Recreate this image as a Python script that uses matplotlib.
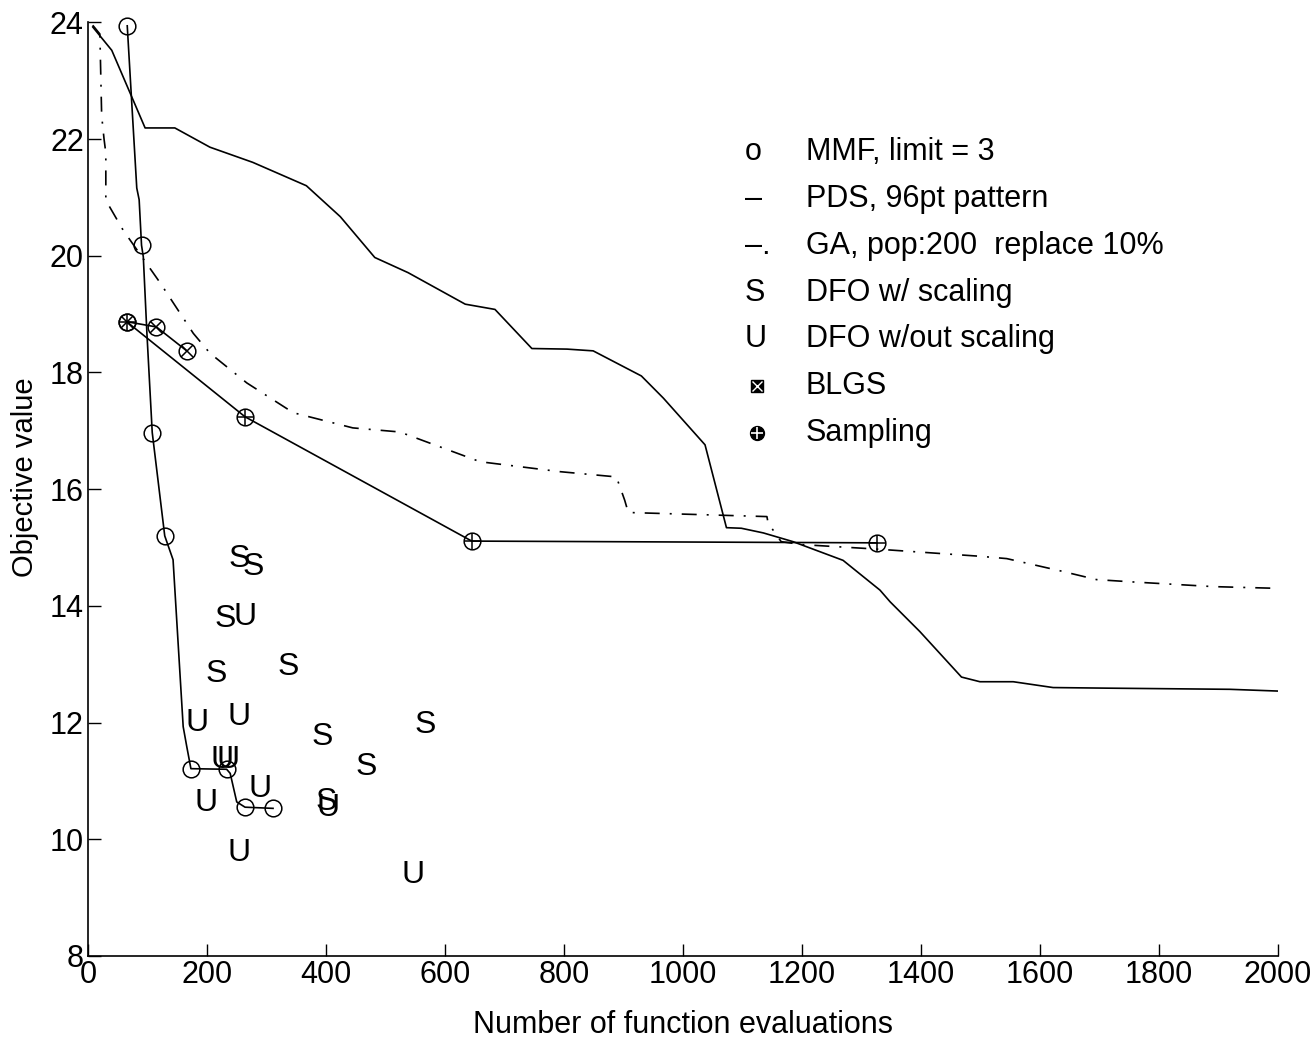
"""
Objective value vs. number of function evaluations for several optimizers
"""
import matplotlib
matplotlib.use("Agg")
import matplotlib.pyplot as plt

plt.rcParams['font.family'] = ['Liberation Sans', 'DejaVu Sans']

# PDS, 96pt pattern (solid)
pds_x = [8, 40, 96, 146, 205, 277, 367, 424, 482, 538, 634, 684, 746, 805, 849, 930, 967,
         1037, 1073, 1098, 1135, 1185, 1269, 1331, 1348, 1398, 1468, 1499, 1555, 1622, 1712, 1919, 2000]
pds_y = [23.92, 23.52, 22.19, 22.19, 21.86, 21.6, 21.2, 20.67, 19.97, 19.71, 19.17, 19.08, 18.41, 18.40, 18.37, 17.94, 17.56,
         16.76, 15.34, 15.33, 15.25, 15.10, 14.78, 14.27, 14.07, 13.56, 12.78, 12.70, 12.70, 12.60, 12.59, 12.57, 12.54]

# GA, pop:200 replace 10% (dash-dot)
ga_x = [8, 20, 23, 27, 30, 30, 59, 121, 177, 205, 267, 345, 445, 524, 659, 793, 888, 894, 902, 908,
        1141, 1143, 1165, 1200, 1330, 1499, 1544, 1634, 1695, 1756, 1891, 2000]
ga_y = [23.95, 23.8, 22.4, 22.0, 21.76, 20.95, 20.44, 19.54, 18.67, 18.33, 17.82, 17.31, 17.05, 16.98, 16.47, 16.30, 16.21, 16.04, 15.81, 15.6,
        15.53, 15.42, 15.1, 15.05, 14.97, 14.85, 14.81, 14.6, 14.45, 14.41, 14.33, 14.30]

# MMF, limit = 3 (path + which vertices carry a circle)
mmf_x = [66, 73, 82, 86, 90, 93, 99, 108, 129, 143, 160, 166, 173, 233, 239, 250, 264, 311]
mmf_y = [23.94, 22.72, 21.16, 20.96, 20.18, 19.98, 18.68, 16.97, 15.2, 14.79, 11.93, 11.59, 11.21, 11.2, 11.13, 10.64, 10.55, 10.53]
mmf_marks = [0, 4, 7, 8, 12, 13, 16, 17]

# BLGS and Sampling
blgs_x = [65, 115, 166]
blgs_y = [18.87, 18.78, 18.37]
samp_x = [65, 264, 645, 1326]
samp_y = [18.87, 17.24, 15.11, 15.08]

# DFO runs, plotted as letters
dfo_s_x = [255, 278, 230, 216, 337, 393, 566, 468, 401]
dfo_s_y = [14.81, 14.67, 13.78, 12.84, 12.96, 11.76, 11.96, 11.24, 10.64]
dfo_u_x = [264, 183, 254, 225, 236, 289, 199, 404, 254, 547]
dfo_u_y = [13.81, 11.99, 12.1, 11.36, 11.36, 10.87, 10.62, 10.53, 9.76, 9.39]

legend_syms = ["o", "\u2013", "\u2013.", "S", "U", None, None]
legend_labels = ["MMF, limit = 3", "PDS, 96pt pattern", "GA, pop:200  replace 10%",
                 "DFO w/ scaling", "DFO w/out scaling", "BLGS", "Sampling"]

x_ticks = [0, 200, 400, 600, 800, 1000, 1200, 1400, 1600, 1800, 2000]
y_ticks = [8, 10, 12, 14, 16, 18, 20, 22, 24]

fig = plt.figure(figsize=(13.15, 10.38), dpi=100)
ax = fig.add_axes([0.0669, 0.079, 0.905, 0.8995])

lw = 1.2
ax.plot(pds_x, pds_y, color='k', lw=lw)
ax.plot(ga_x, ga_y, color='k', lw=lw, dashes=[9, 6, 1.2, 6])
ax.plot(mmf_x, mmf_y, color='k', lw=lw, marker='o', markevery=mmf_marks,
        ms=12, mfc='none', mec='k', mew=1.1, clip_on=False)
ax.plot(samp_x, samp_y, color='k', lw=lw, marker='o', ms=12, mfc='none', mew=1.1)
ax.plot(samp_x, samp_y, ls='none', marker='+', ms=12, color='k', mew=1.1)
ax.plot(blgs_x, blgs_y, color='k', lw=lw, marker='o', ms=12, mfc='none', mew=1.1)
ax.plot(blgs_x, blgs_y, ls='none', marker='x', ms=8.5, color='k', mew=1.1)

for x, y in zip(dfo_s_x, dfo_s_y):
    ax.text(x, y, "S", fontsize=23, ha='center', va='center')
for x, y in zip(dfo_u_x, dfo_u_y):
    ax.text(x, y, "U", fontsize=23, ha='center', va='center')

# matlab-style legend, no frame
row_y = [0.861, 0.811, 0.760, 0.710, 0.661, 0.611, 0.560]
for i, (sym, lab) in enumerate(zip(legend_syms, legend_labels)):
    y = row_y[i]
    if sym is not None:
        ax.text(0.552, y, sym, fontsize=22, ha='left', va='center', transform=ax.transAxes)
    elif lab == "BLGS":
        ax.plot([0.562], [y], transform=ax.transAxes, marker='s', ms=8, mfc='k', mec='k')
        ax.plot([0.562], [y], transform=ax.transAxes, marker='x', ms=6.5, mec='w', mew=1)
    else:
        ax.plot([0.562], [y], transform=ax.transAxes, marker='o', ms=10, mfc='k', mec='k')
        ax.plot([0.562], [y], transform=ax.transAxes, marker='+', ms=8, mec='w', mew=1.2)
    ax.text(0.603, y, lab, fontsize=22, ha='left', va='center', transform=ax.transAxes)

ax.set_xlim(0, 2000)
ax.set_ylim(8, 24)
ax.set_xticks(x_ticks)
ax.set_yticks(y_ticks)
ax.tick_params(direction='in', length=9, width=1, labelsize=22, pad=3)
for side in ('top', 'right'):
    ax.spines[side].set_visible(False)
for side in ('left', 'bottom'):
    ax.spines[side].set_linewidth(1.2)

ax.set_xlabel("Number of function evaluations", fontsize=22)
ax.set_ylabel("Objective value", fontsize=21, va='center')
ax.xaxis.set_label_coords(0.5, -0.058)
ax.yaxis.set_label_coords(-0.053, 0.513)

fig.savefig("out.png", dpi=100)
